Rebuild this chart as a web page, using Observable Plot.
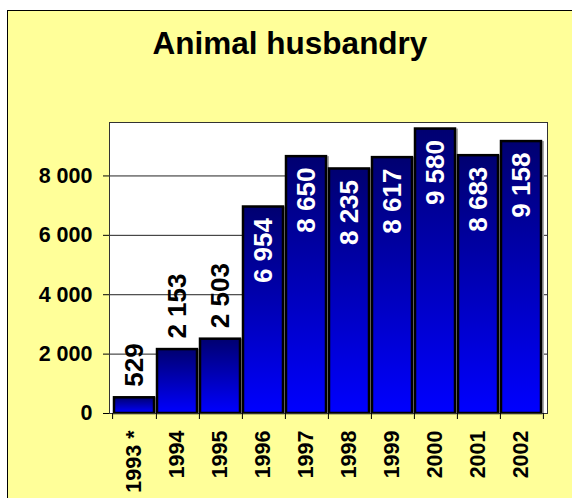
<!DOCTYPE html>
<html><head><meta charset="utf-8">
<script src="https://cdn.jsdelivr.net/npm/d3@7"></script>
<script src="https://cdn.jsdelivr.net/npm/@observablehq/plot@0.6"></script>
<style>
body{margin:0;background:#fff;font-family:"Liberation Sans",Arial,sans-serif;}
#wrap{position:relative;width:572px;height:498px;overflow:hidden;}
#panel{position:absolute;left:7px;top:10px;width:620px;height:620px;background:#FFFF99;border:1.5px solid #000;box-sizing:border-box}
#title{position:absolute;left:0;top:28px;width:580px;text-align:center;font-weight:bold;font-size:31.5px;line-height:1;color:#000}
#chart{position:absolute;left:0;top:0}
</style></head><body>
<div id="wrap"><div id="panel"></div><div id="title"></div><div id="chart"></div></div>
<script>
const title = "Animal husbandry";
const years = ["1993 *","1994","1995","1996","1997","1998","1999","2000","2001","2002"];
const values = [529,2153,2503,6954,8650,8235,8617,9580,8683,9158];
const yTicks = [0,2000,4000,6000,8000];

document.getElementById("title").textContent = title;
const data = years.map((year,i)=>({year, value: values[i]}));
const fmt = v => d3.format(",")(v).replace(/,/g," ");
const W=572,H=498,mL=109,mR=25,n=years.length,pi=0.06,po=0.03;
const step=(W-mL-mR)/(n-pi+2*po);
const font = {fontWeight:"bold"};
const chart = Plot.plot({
  width:W, height:H, marginLeft:mL, marginRight:mR, marginTop:122, marginBottom:85,
  style:{background:"transparent", fontFamily:"Liberation Sans, Arial, sans-serif", color:"#000", overflow:"visible"},
  x:{domain:years, paddingInner:pi, paddingOuter:po, label:null},
  y:{domain:[0,9800], label:null},
  marks:[
    Plot.frame({fill:"white", stroke:null}),
    Plot.gridY(yTicks,{stroke:"#222", strokeOpacity:1}),
    Plot.barY(data,{x:"year", y:"value", fill:"#a8a8a8", dx:3}),
    Plot.barY(data,{x:"year", y:"value", fill:"url(#barGrad)", stroke:"black", strokeWidth:2.5}),
    Plot.frame({stroke:"#333"}),
    Plot.axisY(yTicks,{tickSize:6, tickPadding:11, tickFormat:fmt, fontSize:21.5, ...font, label:null}),
    Plot.axisX({tickSize:0, tickPadding:17, tickRotate:-90, fontSize:21.5, ...font, label:null}),
    Plot.axisX({tickSize:6, fill:"none", dx:step/2, label:null}),
    Plot.axisX([years[0]],{tickSize:6, fill:"none", dx:-step/2, label:null}),
    Plot.text(data.filter(d=>d.value>=4000),{x:"year", y:"value", text:d=>fmt(d.value), rotate:-90, textAnchor:"end", dy:11, fill:"white", fontSize:26, ...font}),
    Plot.text(data.filter(d=>d.value<4000),{x:"year", y:"value", text:d=>fmt(d.value), rotate:-90, textAnchor:"start", dy:-11, fill:"black", fontSize:26, ...font})
  ]
});
const svg = d3.select(chart);
const defs = svg.insert("defs", ":first-child");
const g = defs.append("linearGradient").attr("id","barGrad").attr("x1",0).attr("y1",0).attr("x2",0).attr("y2",1);
g.append("stop").attr("offset","0%").attr("stop-color","#000070");
g.append("stop").attr("offset","100%").attr("stop-color","#0000ff");
document.getElementById("chart").appendChild(chart);
</script>
</body></html>
